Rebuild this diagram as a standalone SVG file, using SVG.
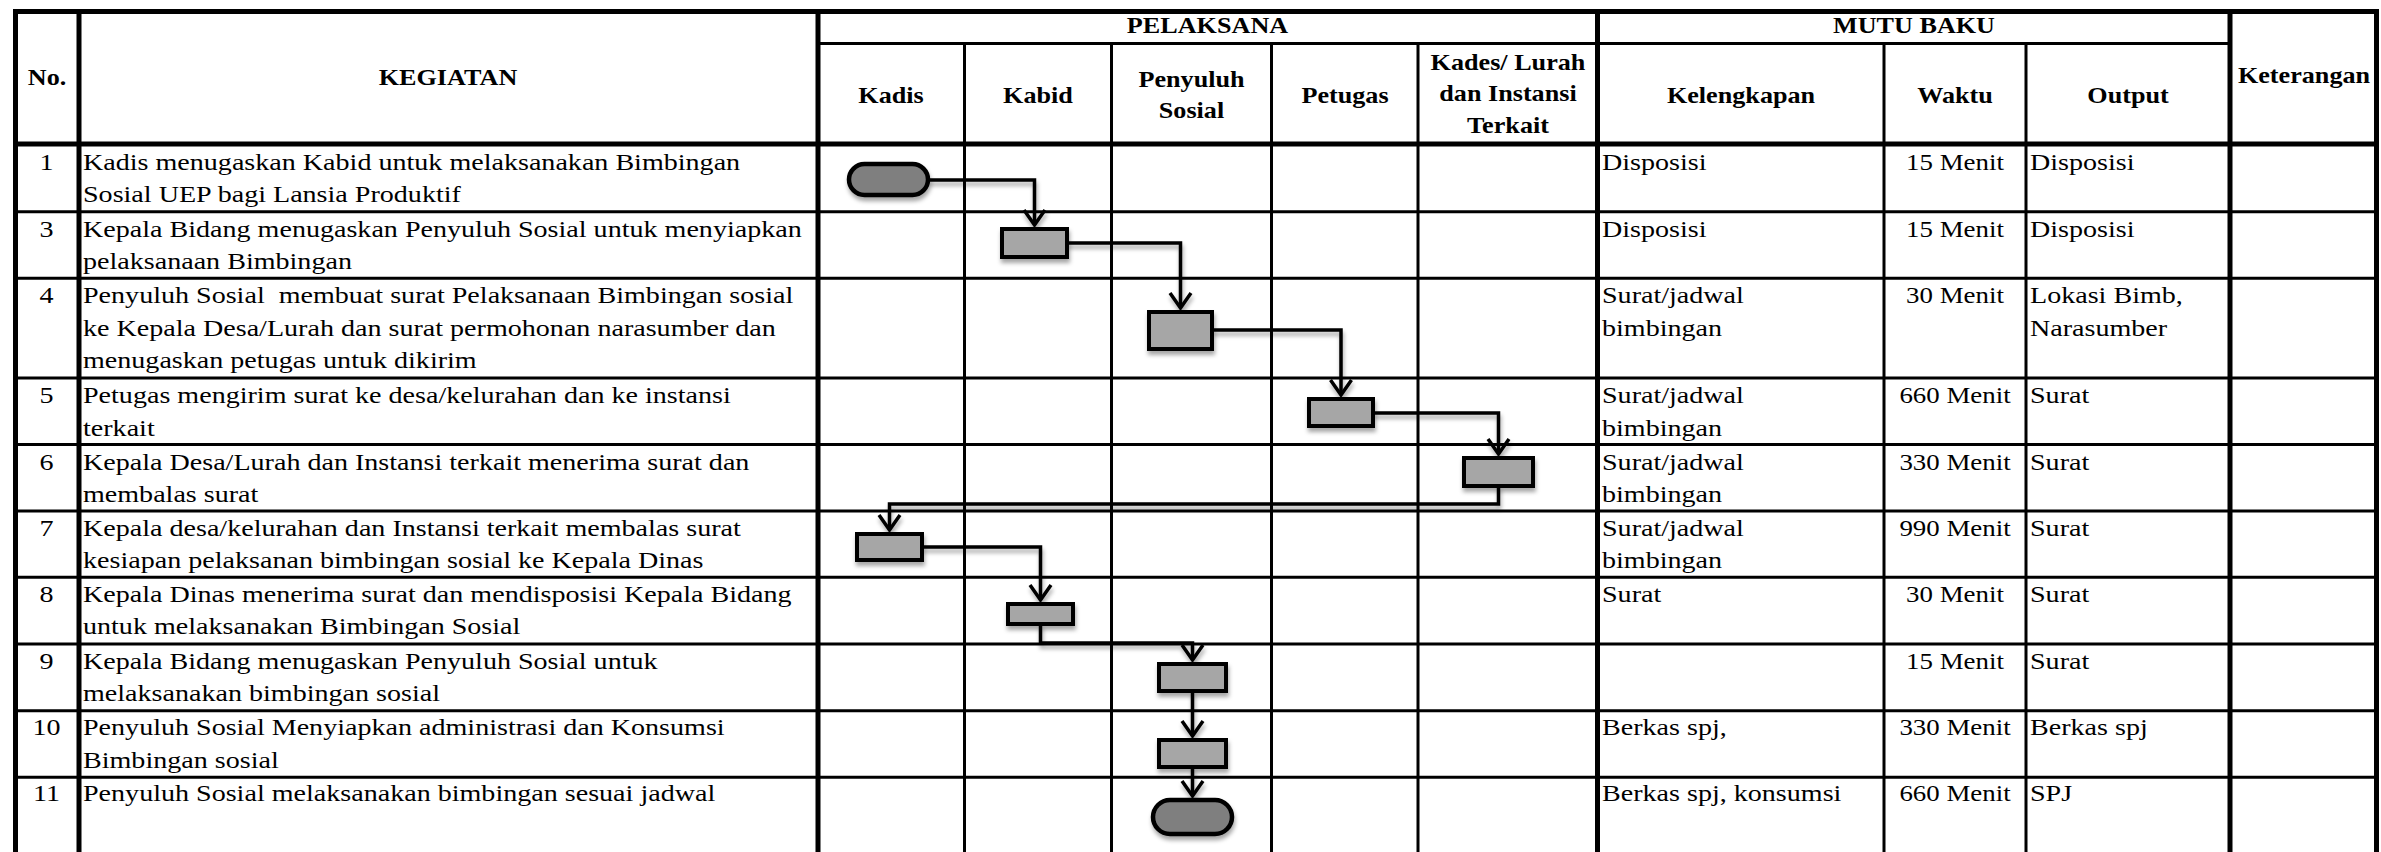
<svg xmlns="http://www.w3.org/2000/svg" width="2381" height="852" viewBox="0 0 2381 852">
<style>
.thin{stroke:#000;stroke-width:3;fill:none}
.thick{stroke:#000;stroke-width:5;fill:none}
.t{font-family:"Liberation Serif","Times New Roman",serif;font-size:24px;fill:#000}
.h{font-family:"Liberation Serif","Times New Roman",serif;font-size:24px;font-weight:bold;fill:#000;text-anchor:middle}
.m{text-anchor:middle}
.proc{fill:#a6a6a6;stroke:#000;stroke-width:4}
.term{fill:#7f7f7f;stroke:#000;stroke-width:4.5}
.conn{fill:none;stroke:#000;stroke-width:3.5;marker-end:url(#arr)}
</style>
<defs>
<marker id="arr" viewBox="-20 -14 24 28" refX="0" refY="0" markerWidth="24" markerHeight="28" markerUnits="userSpaceOnUse" orient="auto">
<path d="M-15,-10.5 L0,0 L-15,10.5" fill="none" stroke="#000" stroke-width="3.5"/>
</marker>
<filter id="sh" filterUnits="userSpaceOnUse" x="0" y="0" width="2381" height="852">
<feDropShadow dx="1" dy="4" stdDeviation="2" flood-color="#000" flood-opacity="0.35"/>
</filter>
</defs>
<rect width="2381" height="852" fill="#fff"/>

<g id="table">
<line class="thick" x1="13" y1="11.5" x2="2379" y2="11.5"/>
<line class="thin" x1="818" y1="43.5" x2="2230" y2="43.5"/>
<line class="thick" x1="13" y1="144" x2="2379" y2="144"/>
<line class="thin" x1="15.5" y1="211.7" x2="2376.5" y2="211.7"/>
<line class="thin" x1="15.5" y1="278.3" x2="2376.5" y2="278.3"/>
<line class="thin" x1="15.5" y1="378" x2="2376.5" y2="378"/>
<line class="thin" x1="15.5" y1="444.5" x2="2376.5" y2="444.5"/>
<line class="thin" x1="15.5" y1="511" x2="2376.5" y2="511"/>
<line class="thin" x1="15.5" y1="577.3" x2="2376.5" y2="577.3"/>
<line class="thin" x1="15.5" y1="644" x2="2376.5" y2="644"/>
<line class="thin" x1="15.5" y1="710.7" x2="2376.5" y2="710.7"/>
<line class="thin" x1="15.5" y1="777.3" x2="2376.5" y2="777.3"/>
<line class="thick" x1="15.5" y1="9" x2="15.5" y2="852"/>
<line class="thick" x1="79" y1="9" x2="79" y2="852"/>
<line class="thick" x1="818" y1="9" x2="818" y2="852"/>
<line class="thin" x1="964.5" y1="43.5" x2="964.5" y2="852"/>
<line class="thin" x1="1111.5" y1="43.5" x2="1111.5" y2="852"/>
<line class="thin" x1="1271.5" y1="43.5" x2="1271.5" y2="852"/>
<line class="thin" x1="1418" y1="43.5" x2="1418" y2="852"/>
<line class="thick" x1="1597.5" y1="9" x2="1597.5" y2="852"/>
<line class="thin" x1="1884" y1="43.5" x2="1884" y2="852"/>
<line class="thin" x1="2026" y1="43.5" x2="2026" y2="852"/>
<line class="thick" x1="2230" y1="9" x2="2230" y2="852"/>
<line class="thick" x1="2376.5" y1="9" x2="2376.5" y2="852"/>
</g>

<g id="headers">
<text class="h" transform="translate(47 0) scale(1.09 1)" y="85">No.</text>
<text class="h" transform="translate(448 0) scale(1.09 1)" y="85">KEGIATAN</text>
<text class="h" transform="translate(1207.5 0) scale(1.09 1)" y="33.5">PELAKSANA</text>
<text class="h" transform="translate(1914 0) scale(1.09 1)" y="33.5">MUTU BAKU</text>
<text class="h" transform="translate(891 0) scale(1.09 1)" y="103">Kadis</text>
<text class="h" transform="translate(1038 0) scale(1.09 1)" y="103">Kabid</text>
<text class="h" transform="translate(1191.5 0) scale(1.09 1)" y="87">Penyuluh</text>
<text class="h" transform="translate(1191.5 0) scale(1.09 1)" y="118.5">Sosial</text>
<text class="h" transform="translate(1345 0) scale(1.09 1)" y="103">Petugas</text>
<text class="h" transform="translate(1508 0) scale(1.09 1)" y="70">Kades/ Lurah</text>
<text class="h" transform="translate(1508 0) scale(1.09 1)" y="101.5">dan Instansi</text>
<text class="h" transform="translate(1508 0) scale(1.09 1)" y="133">Terkait</text>
<text class="h" transform="translate(1741 0) scale(1.09 1)" y="103">Kelengkapan</text>
<text class="h" transform="translate(1955 0) scale(1.09 1)" y="103">Waktu</text>
<text class="h" transform="translate(2128 0) scale(1.09 1)" y="103">Output</text>
<text class="h" transform="translate(2304 0) scale(1.09 1)" y="83">Keterangan</text>
</g>

<g id="col-no" class="t m" transform="translate(46.5 0) scale(1.17 1)">
<text x="0" y="170">1</text>
<text x="0" y="237">3</text>
<text x="0" y="303.5">4</text>
<text x="0" y="403.5">5</text>
<text x="0" y="470">6</text>
<text x="0" y="536">7</text>
<text x="0" y="602">8</text>
<text x="0" y="669">9</text>
<text x="0" y="735.5">10</text>
<text x="0" y="801">11</text>
</g>

<g id="col-kegiatan" class="t" transform="translate(83 0) scale(1.17 1)">
<text x="0" y="170">Kadis menugaskan Kabid untuk melaksanakan Bimbingan</text>
<text x="0" y="202.5">Sosial UEP bagi Lansia Produktif</text>
<text x="0" y="237">Kepala Bidang menugaskan Penyuluh Sosial untuk menyiapkan</text>
<text x="0" y="269.5">pelaksanaan Bimbingan</text>
<text x="0" y="303.5" xml:space="preserve">Penyuluh Sosial  membuat surat Pelaksanaan Bimbingan sosial</text>
<text x="0" y="336">ke Kepala Desa/Lurah dan surat permohonan narasumber dan</text>
<text x="0" y="368.5">menugaskan petugas untuk dikirim</text>
<text x="0" y="403.5">Petugas mengirim surat ke desa/kelurahan dan ke instansi</text>
<text x="0" y="436">terkait</text>
<text x="0" y="470">Kepala Desa/Lurah dan Instansi terkait menerima surat dan</text>
<text x="0" y="502.5">membalas surat</text>
<text x="0" y="536">Kepala desa/kelurahan dan Instansi terkait membalas surat</text>
<text x="0" y="568.5">kesiapan pelaksanan bimbingan sosial ke Kepala Dinas</text>
<text x="0" y="602">Kepala Dinas menerima surat dan mendisposisi Kepala Bidang</text>
<text x="0" y="634.5">untuk melaksanakan Bimbingan Sosial</text>
<text x="0" y="669">Kepala Bidang menugaskan Penyuluh Sosial untuk</text>
<text x="0" y="701.5">melaksanakan bimbingan sosial</text>
<text x="0" y="735.5">Penyuluh Sosial Menyiapkan administrasi dan Konsumsi</text>
<text x="0" y="768">Bimbingan sosial</text>
<text x="0" y="801">Penyuluh Sosial melaksanakan bimbingan sesuai jadwal</text>
</g>

<g id="col-kelengkapan" class="t" transform="translate(1602 0) scale(1.17 1)">
<text x="0" y="170">Disposisi</text>
<text x="0" y="237">Disposisi</text>
<text x="0" y="303.5">Surat/jadwal</text>
<text x="0" y="336">bimbingan</text>
<text x="0" y="403.5">Surat/jadwal</text>
<text x="0" y="436">bimbingan</text>
<text x="0" y="470">Surat/jadwal</text>
<text x="0" y="502.5">bimbingan</text>
<text x="0" y="536">Surat/jadwal</text>
<text x="0" y="568.5">bimbingan</text>
<text x="0" y="602">Surat</text>
<text x="0" y="735.5">Berkas spj,</text>
<text x="0" y="801">Berkas spj, konsumsi</text>
</g>

<g id="col-waktu" class="t m" transform="translate(1955 0) scale(1.12 1)">
<text x="0" y="170">15 Menit</text>
<text x="0" y="237">15 Menit</text>
<text x="0" y="303.5">30 Menit</text>
<text x="0" y="403.5">660 Menit</text>
<text x="0" y="470">330 Menit</text>
<text x="0" y="536">990 Menit</text>
<text x="0" y="602">30 Menit</text>
<text x="0" y="669">15 Menit</text>
<text x="0" y="735.5">330 Menit</text>
<text x="0" y="801">660 Menit</text>
</g>

<g id="col-output" class="t" transform="translate(2030 0) scale(1.17 1)">
<text x="0" y="170">Disposisi</text>
<text x="0" y="237">Disposisi</text>
<text x="0" y="303.5">Lokasi Bimb,</text>
<text x="0" y="336">Narasumber</text>
<text x="0" y="403.5">Surat</text>
<text x="0" y="470">Surat</text>
<text x="0" y="536">Surat</text>
<text x="0" y="602">Surat</text>
<text x="0" y="669">Surat</text>
<text x="0" y="735.5">Berkas spj</text>
<text x="0" y="801">SPJ</text>
</g>

<g id="connectors" filter="url(#sh)">
<path class="conn" d="M928,180 H1034.5 V225"/>
<path class="conn" d="M1067,243 H1180.5 V308"/>
<path class="conn" d="M1212,330 H1341 V395"/>
<path class="conn" d="M1373,413 H1498.5 V454"/>
<path class="conn" d="M1498.5,486 V504 H889.5 V530"/>
<path class="conn" d="M922,547 H1040.5 V600"/>
<path class="conn" d="M1040.5,624 V643 H1192.5 V660"/>
<path class="conn" d="M1192.5,691 V736"/>
<path class="conn" d="M1192.5,767 V796"/>
</g>

<g id="nodes" filter="url(#sh)">
<g id="n1-start"><rect class="term" x="849" y="164" width="79" height="31" rx="15.5"/></g>
<g id="n3-kabid"><rect class="proc" x="1002" y="229" width="65" height="28"/></g>
<g id="n4-penyuluh"><rect class="proc" x="1149" y="312" width="63" height="37"/></g>
<g id="n5-petugas"><rect class="proc" x="1309" y="399" width="64" height="27"/></g>
<g id="n6-kades"><rect class="proc" x="1464" y="458" width="69" height="28"/></g>
<g id="n7-kadis"><rect class="proc" x="857" y="534" width="65" height="26"/></g>
<g id="n8-kabid"><rect class="proc" x="1008" y="604" width="65" height="20"/></g>
<g id="n9-penyuluh"><rect class="proc" x="1159" y="664" width="67" height="27"/></g>
<g id="n10-penyuluh"><rect class="proc" x="1159" y="740" width="67" height="27"/></g>
<g id="n11-end"><rect class="term" x="1153" y="800" width="79" height="34" rx="17"/></g>
</g>
</svg>
